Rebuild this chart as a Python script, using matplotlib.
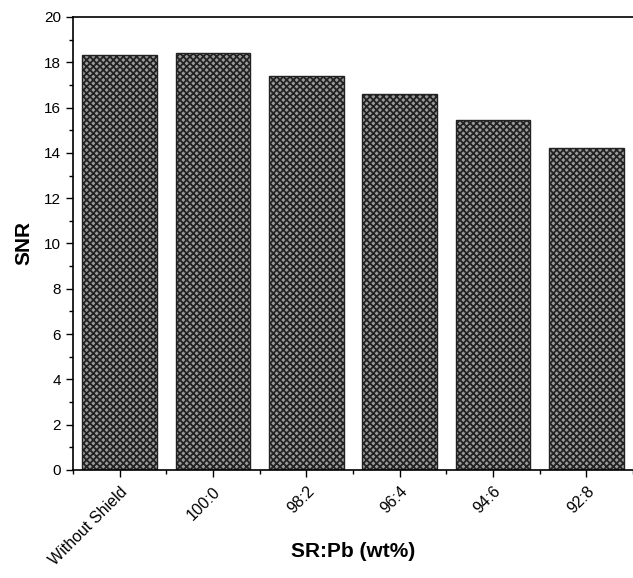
import matplotlib
matplotlib.use("Agg")
import matplotlib.pyplot as plt
from matplotlib.ticker import MultipleLocator

plt.rcParams['font.family'] = ['Liberation Sans', 'DejaVu Sans']
plt.rcParams['hatch.color'] = 'black'
plt.rcParams['hatch.linewidth'] = 1.3

categories = ['Without Shield', '100:0', '98:2', '96:4', '94:6', '92:8']
snr = [18.3, 18.4, 17.4, 16.6, 15.45, 14.2]

fig = plt.figure(figsize=(6.33, 5.78), dpi=100)
ax = fig.add_axes([0.1153, 0.1869, 0.8847, 0.7837])

x = list(range(len(categories)))
ax.bar(x, snr, width=0.8, facecolor='#9a9a9a', edgecolor='#222222',
       hatch='xxxxx', linewidth=1.0)

ax.set_xlim(-0.5, 5.5)
ax.set_ylim(0, 20)
ax.set_xticks(x)
ax.set_xticklabels(categories, rotation=45, ha='right', rotation_mode='anchor',
                   fontsize=11.5)
ax.xaxis.set_minor_locator(MultipleLocator(0.5))
ax.yaxis.set_major_locator(MultipleLocator(2))
ax.yaxis.set_minor_locator(MultipleLocator(1))
ax.tick_params(axis='y', labelsize=11)
ax.tick_params(axis='x', pad=5)
ax.tick_params(which='major', direction='out', length=5, width=1)
ax.tick_params(which='minor', direction='out', length=3, width=1)
ax.spines['right'].set_visible(False)
for s in ['left', 'top', 'bottom']:
    ax.spines[s].set_linewidth(1.2)

ax.set_xlabel('SR:Pb (wt%)', fontsize=15, fontweight='bold')
ax.xaxis.set_label_coords(0.5, -0.158)
ax.set_ylabel('SNR', fontsize=15, fontweight='bold', labelpad=8)

fig.savefig('out.png', dpi=100)
